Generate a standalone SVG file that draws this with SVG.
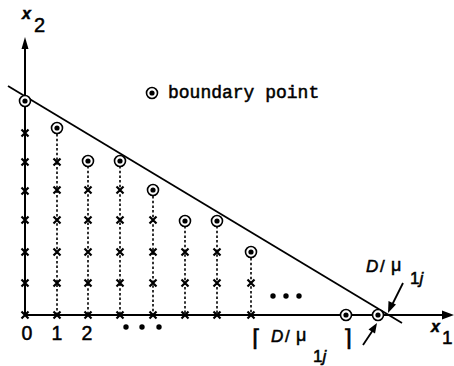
<svg xmlns="http://www.w3.org/2000/svg" width="454" height="366" viewBox="0 0 454 366">
<defs>
<style>
.ax{stroke:#000;stroke-width:2;fill:none}
.bd{stroke:#000;stroke-width:1.8;fill:none}
.dot{stroke:#000;stroke-width:1.6;stroke-dasharray:2.5 2.2;fill:none}
.cr{stroke:#000;stroke-width:2.2;fill:none}
.bo{stroke:#000;stroke-width:1.6;fill:#fff}
.sans{font-family:"Liberation Sans",Arial,sans-serif;fill:#000;stroke:#000;stroke-width:0.5}
.it{font-style:italic}
.mono{font-family:"Liberation Mono","Courier New",monospace;fill:#000;stroke:#000;stroke-width:0.5}
.br{font-family:"DejaVu Sans",sans-serif;fill:#000;stroke:#000;stroke-width:0.6}
</style>
<g id="bp"><circle r="5.5" class="bo"/><circle r="2.6" fill="#000"/></g>
<path id="x" d="M-3.5,-3.5L3.5,3.5M-3.5,3.5L3.5,-3.5" class="cr"/>
</defs>
<g id="axes">
<line x1="25" y1="316" x2="25" y2="46" class="ax"/>
<polygon points="25,37 21.5,49 28.5,49" fill="#000"/>
<line x1="24" y1="315" x2="444" y2="315" class="ax"/>
<polygon points="454,315 442,310.5 442,319.5" fill="#000"/>
<line id="boundary" x1="8" y1="86" x2="402" y2="323" class="bd"/>
</g>
<g id="connectors">
<line x1="57" y1="134" x2="57" y2="315" class="dot"/>
<line x1="88" y1="166" x2="88" y2="315" class="dot"/>
<line x1="120" y1="166" x2="120" y2="315" class="dot"/>
<line x1="153" y1="196" x2="153" y2="315" class="dot"/>
<line x1="185" y1="226" x2="185" y2="315" class="dot"/>
<line x1="217" y1="226" x2="217" y2="315" class="dot"/>
<line x1="251" y1="258" x2="251" y2="315" class="dot"/>
</g>
<g id="crosses">
<use href="#x" x="25" y="315"/><use href="#x" x="25" y="283"/><use href="#x" x="25" y="252"/><use href="#x" x="25" y="220"/><use href="#x" x="25" y="191"/><use href="#x" x="25" y="162"/><use href="#x" x="25" y="133"/>
<use href="#x" x="57" y="315"/><use href="#x" x="57" y="283"/><use href="#x" x="57" y="252"/><use href="#x" x="57" y="220"/><use href="#x" x="57" y="190"/><use href="#x" x="57" y="162"/>
<use href="#x" x="88" y="315"/><use href="#x" x="88" y="283"/><use href="#x" x="88" y="252"/><use href="#x" x="88" y="220"/><use href="#x" x="88" y="190"/>
<use href="#x" x="120" y="315"/><use href="#x" x="120" y="283"/><use href="#x" x="120" y="252"/><use href="#x" x="120" y="220"/><use href="#x" x="120" y="190"/>
<use href="#x" x="153" y="315"/><use href="#x" x="153" y="283"/><use href="#x" x="153" y="252"/><use href="#x" x="153" y="220"/>
<use href="#x" x="185" y="315"/><use href="#x" x="185" y="283"/><use href="#x" x="185" y="252"/>
<use href="#x" x="217" y="315"/><use href="#x" x="217" y="283"/><use href="#x" x="217" y="252"/>
<use href="#x" x="251" y="315"/><use href="#x" x="251" y="283"/>
</g>
<g id="boundary-points">
<use href="#bp" x="25" y="101"/>
<use href="#bp" x="57" y="128"/>
<use href="#bp" x="88" y="161"/>
<use href="#bp" x="120" y="161"/>
<use href="#bp" x="153" y="190"/>
<use href="#bp" x="185" y="221"/>
<use href="#bp" x="217" y="221"/>
<use href="#bp" x="251" y="252"/>
<use href="#bp" x="346" y="315"/>
<use href="#bp" x="378" y="315"/>
</g>
<g id="ellipses" fill="#000">
<circle cx="126" cy="327" r="2.7"/><circle cx="142" cy="327" r="2.7"/><circle cx="159" cy="327" r="2.7"/>
<circle cx="273" cy="296" r="2.7"/><circle cx="286" cy="296" r="2.7"/><circle cx="299" cy="296" r="2.7"/>
</g>
<g id="legend">
<use href="#bp" x="152" y="93"/>
<text x="168" y="98" class="mono" font-size="18">boundary point</text>
</g>
<g id="labels">
<text x="22" y="19" class="sans it" font-weight="bold" font-size="16">x</text>
<text x="34" y="32" class="sans" font-size="20">2</text>
<text x="431" y="332" class="sans it" font-weight="bold" font-size="16">x</text>
<text x="442" y="344" class="sans" font-size="19">1</text>
<text x="27" y="340" class="sans" font-size="19.5" text-anchor="middle">0</text>
<text x="57" y="340" class="sans" font-size="19.5" text-anchor="middle">1</text>
<text x="87" y="340" class="sans" font-size="19.5" text-anchor="middle">2</text>
</g>
<g id="label-top">
<text x="366" y="272" class="sans it" font-size="17">D</text>
<text x="380" y="272" class="sans" font-size="17">/</text>
<text x="391" y="271" class="sans" font-size="18">μ</text>
<text x="410" y="284" class="sans" font-size="17">1<tspan class="it">j</tspan></text>
<line x1="403" y1="283" x2="392" y2="305" class="bd"/>
<polygon points="388,313 388.5,301 396,304.5" fill="#000"/>
</g>
<g id="label-bottom">
<text x="252" y="346" class="br" font-size="23">⌈</text>
<text x="271" y="342" class="sans it" font-size="17">D</text>
<text x="285" y="342" class="sans" font-size="17">/</text>
<text x="296" y="341" class="sans" font-size="18">μ</text>
<text x="313" y="362" class="sans" font-size="17">1<tspan class="it">j</tspan></text>
<text x="343" y="346" class="br" font-size="23">⌉</text>
<line x1="363" y1="345" x2="373" y2="330" class="bd"/>
<polygon points="377,323 368.5,329.5 375,333.5" fill="#000"/>
</g>
</svg>
